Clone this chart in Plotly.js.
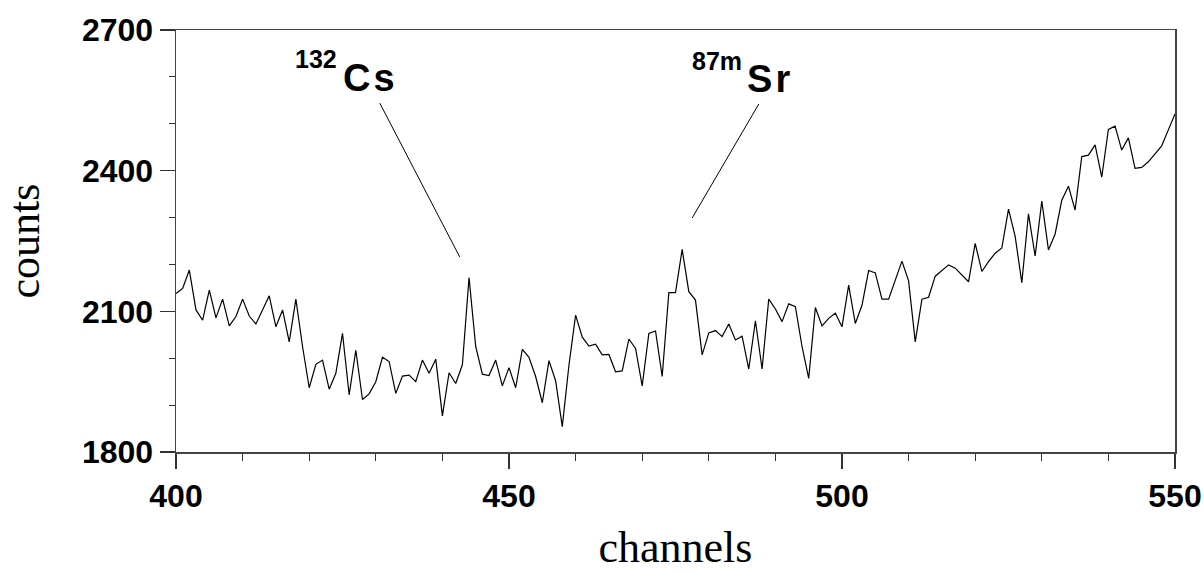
<!DOCTYPE html>
<html>
<head>
<meta charset="utf-8">
<script src="https://cdn.plot.ly/plotly-3.0.1.min.js"></script>
<style>html,body{margin:0;padding:0;background:#fff;}#chart{width:1204px;height:572px;}</style>
</head>
<body>
<div id="chart"></div>
<script>
// channel numbers
const channels = [];
for (let c = 400; c <= 550; c++) channels.push(c);

// counts per channel
const counts = [
  2138, 2149, 2188, 2103, 2081, 2145, 2086, 2126, 2069, 2089,
  2126, 2090, 2073, 2103, 2133, 2067, 2103, 2035, 2126, 2025,
  1937, 1987, 1996, 1934, 1968, 2053, 1922, 2017, 1912, 1924,
  1950, 2002, 1993, 1925, 1962, 1964, 1950, 1996, 1968, 1998,
  1877, 1969, 1946, 1986, 2172, 2025, 1966, 1963, 1996, 1941,
  1980, 1937, 2019, 2002, 1961, 1905, 1995, 1952, 1854, 1985,
  2092, 2045, 2026, 2030, 2007, 2008, 1971, 1973, 2041, 2021,
  1941, 2053, 2058, 1961, 2140, 2140, 2232, 2142, 2124, 2007,
  2054, 2059, 2046, 2073, 2039, 2047, 1977, 2080, 1977, 2126,
  2105, 2078, 2116, 2110, 2025, 1957, 2108, 2069, 2085, 2096,
  2067, 2156, 2074, 2113, 2187, 2182, 2126, 2126, 2167, 2207,
  2165, 2035, 2126, 2130, 2175, 2187, 2199, 2192, 2177, 2163,
  2245, 2185, 2206, 2224, 2235, 2318, 2260, 2161, 2308, 2218,
  2335, 2231, 2265, 2337, 2367, 2316, 2430, 2433, 2455, 2386,
  2488, 2495, 2444, 2470, 2405, 2407, 2419, 2437, 2453, 2487,
  2521
];

const xTicks = [400, 450, 500, 550];
const yTicks = [1800, 2100, 2400, 2700];

// peak labels
const peakMass = ['132', '87m'];
const peakElement = ['C\u200As', 'S\u200Ar'];

const tickFont = {family: 'Liberation Sans, Arial, sans-serif', size: 32, color: '#000', weight: 'bold'};
const titleFont = {family: 'Liberation Serif, Times New Roman, serif', size: 44, color: '#000'};
const lblFont = {family: 'Liberation Sans, Arial, sans-serif', size: 38, color: '#000', weight: 'bold'};
const supFont = {family: 'Liberation Sans, Arial, sans-serif', size: 25, color: '#000', weight: 'bold'};

const trace = {
  x: channels, y: counts, type: 'scatter', mode: 'lines',
  line: {color: '#000', width: 1.2}, hoverinfo: 'skip'
};

const layout = {
  width: 1204, height: 572,
  margin: {l: 176, r: 29, t: 30, b: 120},
  paper_bgcolor: '#fff', plot_bgcolor: '#fff',
  showlegend: false,
  xaxis: {
    range: [400, 550], tickvals: xTicks, ticktext: xTicks.map(String),
    ticks: 'outside', ticklen: 15, tickwidth: 1.2, tickcolor: '#333',
    minor: {dtick: 10, tick0: 400, ticks: 'outside', ticklen: 7, tickwidth: 1, tickcolor: '#333', showgrid: false},
    showgrid: false, zeroline: false,
    showline: true, mirror: true, linecolor: '#444', linewidth: 1.5,
    tickfont: tickFont,
    title: {text: 'channels', font: titleFont, standoff: 23},
    automargin: false
  },
  yaxis: {
    range: [1800, 2700], tickvals: yTicks, ticktext: yTicks.map(String),
    ticks: 'outside', ticklen: 15, tickwidth: 1.2, tickcolor: '#333',
    minor: {dtick: 100, tick0: 1800, ticks: 'outside', ticklen: 6, tickwidth: 1, tickcolor: '#333', showgrid: false},
    showgrid: false, zeroline: false,
    showline: true, mirror: true, linecolor: '#444', linewidth: 1.5,
    tickfont: tickFont,
    title: {text: 'counts', font: titleFont, standoff: 34},
    automargin: false
  },
  shapes: [
    {type: 'line', xref: 'x', yref: 'y', x0: 430.6, y0: 2544, x1: 442.6, y1: 2216, line: {color: '#000', width: 1}},
    {type: 'line', xref: 'x', yref: 'y', x0: 487.5, y0: 2542, x1: 477.5, y1: 2299, line: {color: '#000', width: 1}}
  ],
  annotations: [
    {x: 421.0, y: 2638, xref: 'x', yref: 'y', text: peakMass[0], showarrow: false, font: supFont, xanchor: 'center', yanchor: 'middle'},
    {x: 429.0, y: 2597, xref: 'x', yref: 'y', text: peakElement[0], showarrow: false, font: lblFont, xanchor: 'center', yanchor: 'middle'},
    {x: 481.2, y: 2634, xref: 'x', yref: 'y', text: peakMass[1], showarrow: false, font: supFont, xanchor: 'center', yanchor: 'middle'},
    {x: 489.0, y: 2595, xref: 'x', yref: 'y', text: peakElement[1], showarrow: false, font: lblFont, xanchor: 'center', yanchor: 'middle'}
  ]
};

Plotly.newPlot('chart', [trace], layout, {staticPlot: true, displayModeBar: false});
</script>
</body>
</html>
